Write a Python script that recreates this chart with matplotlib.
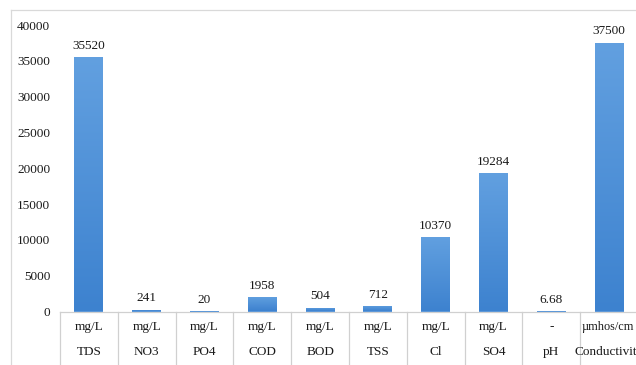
import numpy as np
import matplotlib
matplotlib.use("Agg")
import matplotlib.pyplot as plt
from matplotlib.lines import Line2D
from matplotlib.colors import LinearSegmentedColormap

parameters = ["TDS", "NO3", "PO4", "COD", "BOD", "TSS", "Cl", "SO4", "pH", "Conductivity"]
units = ["mg/L", "mg/L", "mg/L", "mg/L", "mg/L", "mg/L", "mg/L", "mg/L", "-", "µmhos/cm"]
values = [35520, 241, 20, 1958, 504, 712, 10370, 19284, 6.68, 37500]
value_labels = ["35520", "241", "20", "1958", "504", "712", "10370", "19284", "6.68", "37500"]
y_ticks = [0, 5000, 10000, 15000, 20000, 25000, 30000, 35000, 40000]

plt.rcParams["font.family"] = ["Liberation Serif", "DejaVu Serif"]
W, H = 636, 365
fig = plt.figure(figsize=(W / 100, H / 100), dpi=100)

left_px, right_px, top_px, bottom_px = 60, 638, 25, 311.5
ax = fig.add_axes([left_px / W, (H - bottom_px) / H,
                   (right_px - left_px) / W, (bottom_px - top_px) / H])

FS = 9.5
TXT = "#1a1a1a"

x = np.arange(len(parameters))
bars = ax.bar(x, values, width=0.5, color="#4E91DA", linewidth=0, zorder=2)

# vertical gradient fill for each bar
grad_cmap = LinearSegmentedColormap.from_list("barfill", ["#3D82CF", "#62A0E0"])
gradient = np.linspace(0, 1, 256).reshape(-1, 1)
for rect in bars:
    x0, w, h = rect.get_x(), rect.get_width(), rect.get_height()
    im = ax.imshow(gradient, cmap=grad_cmap, origin="lower", aspect="auto",
                   extent=[x0, x0 + w, 0, h], zorder=3)
    im.set_clip_path(rect)

ax.set_xlim(-0.5, len(parameters) - 0.5)
ax.set_ylim(0, 40000)
ax.set_yticks(y_ticks)
ax.set_yticklabels([str(t) for t in y_ticks], fontsize=FS, color=TXT)
ax.tick_params(axis="y", length=0, pad=7)
ax.set_xticks([])

for s in ["top", "right", "left"]:
    ax.spines[s].set_visible(False)
ax.spines["bottom"].set_color("#d0d0d0")
ax.spines["bottom"].set_linewidth(0.9)
ax.spines["bottom"].set_zorder(4)

# value labels above bars
for xi, v, lab in zip(x, values, value_labels):
    ax.annotate(lab, (xi, v), xytext=(0, 4), textcoords="offset points",
                ha="center", va="bottom", fontsize=FS, color=TXT)

# category table below axis
trans = ax.get_xaxis_transform()
for k in range(len(parameters) + 1):
    ax.plot([k - 0.5, k - 0.5], [0, -0.3], transform=trans, color="#d0d0d0",
            lw=0.9, clip_on=False)
for xi, u, p in zip(x, units, parameters):
    ufs = FS if len(u) < 6 else 8.8
    ax.annotate(u, (xi, 0), xycoords=trans, xytext=(-1 if len(u) >= 6 else 0, -11),
                textcoords="offset points",
                ha="center", va="center", fontsize=ufs, color=TXT)
    ax.annotate(p, (xi, 0), xycoords=trans, xytext=(0, -29.5), textcoords="offset points",
                ha="center", va="center", fontsize=FS, color=TXT)

# chart area border (left and top edges)
fig.add_artist(Line2D([11 / W, 11 / W], [0, 1 - 10 / H], transform=fig.transFigure,
                      color="#d9d9d9", lw=0.9))
fig.add_artist(Line2D([11 / W, 1], [1 - 10 / H, 1 - 10 / H], transform=fig.transFigure,
                      color="#d9d9d9", lw=0.9))

fig.savefig("out.png", dpi=100)
